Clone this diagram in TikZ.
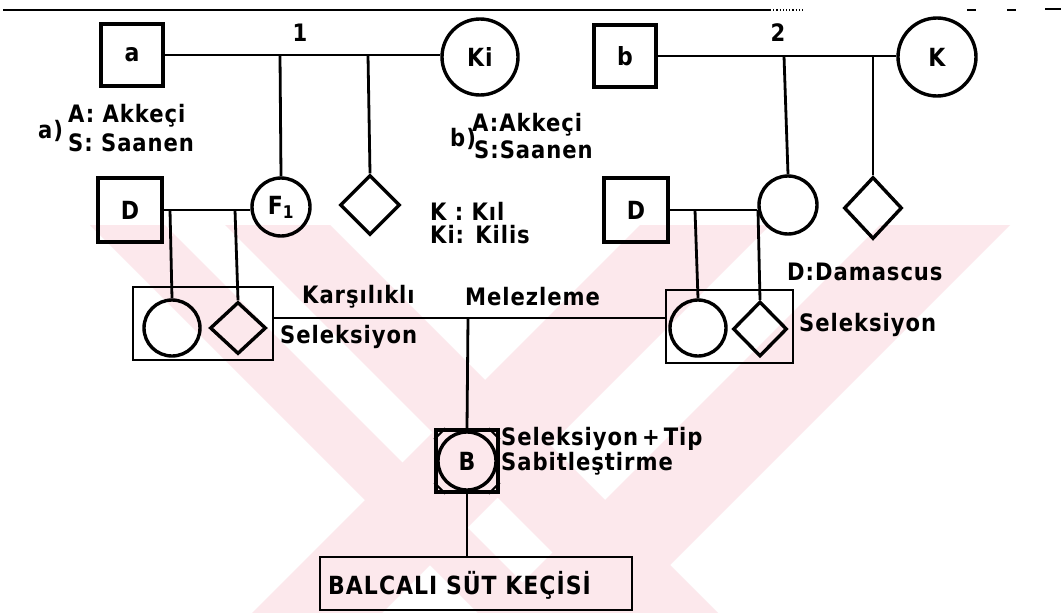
\documentclass[tikz,border=0pt]{standalone}
\usepackage{fontspec}
\setmainfont{DejaVu Sans}
\newfontfamily\lf{DejaVu Sans}[LetterSpace=4,FakeStretch=0.88]
\usetikzlibrary{shapes.geometric,calc}
\newcommand\lblfont{\lf\bfseries\fontsize{24}{27}\selectfont}
\newcommand\inlfont{\lf\bfseries\fontsize{25}{28}\selectfont}
\newcommand\balfont{\lf\bfseries\fontsize{25}{28}\selectfont}
\definecolor{wmpink}{RGB}{252,232,236}
\begin{document}
\begin{tikzpicture}[x=1pt,y=-1pt,
  sq/.style={draw,line width=3.4pt,minimum size=62pt,inner sep=0pt,font=\inlfont},
  circ/.style={draw,circle,line width=3.4pt,inner sep=0pt,font=\inlfont},
  dia/.style={draw,diamond,line width=3.4pt,inner sep=0pt,minimum width=60pt,minimum height=60pt},
  conn/.style={line width=2.8pt},
  grp/.style={draw,line width=2.8pt,inner sep=0pt},
  txt/.style={font=\lblfont,inner sep=0pt,anchor=west},
  wm/.style={fill=wmpink}]
\useasboundingbox (0,0) rectangle (1061,613);
\fill[white] (0,0) rectangle (1061,613);
% faint background watermark
\begin{scope}
\clip (0,225) rectangle (1061,613);
\fill[wm] (90,225) -- (165,225) -- (553,613) -- (478,613) -- cycle;
\fill[wm] (225,225) -- (330,225) -- (718,613) -- (613,613) -- cycle;
\fill[wm] (880,225) -- (1010,225) -- (622,613) -- (492,613) -- cycle;
\fill[wm] (640,225) -- (770,225) -- (382,613) -- (252,613) -- cycle;
\end{scope}
% top rule
\draw[line width=2.4pt] (3,10) -- (770,10);
\draw[line width=1.2pt,dotted] (770,10) -- (805,10);
\draw[line width=1.6pt] (967,10) -- (976,10);
\draw[line width=1.6pt] (1007,10) -- (1016,10);
\draw[line width=2.6pt] (1045,9) -- (1061,9);
% generation 1
\node[sq] (a) at (132,55) {a};
\node[circ,minimum size=76pt] (ki) at (480,57) {Ki};
\node[sq] (b) at (625,56) {b};
\node[circ,minimum size=78pt] (k) at (937,57) {K};
\node[font=\lblfont,inner sep=0pt] (n1) at (300,33) {1};
\node[font=\lblfont,inner sep=0pt] (n2) at (778,33) {2};
% generation 2
\node[circ,minimum size=58pt] (f1) at (281,207) {F\textsubscript{1}};
\node[dia] (d1x) at (370,205) {};
\node[sq,minimum size=64pt] (dd1) at (130,210) {D};
\node[sq,minimum size=64pt] (dd2) at (636,210) {D};
\node[circ,minimum size=58pt] (f2) at (788,205) {};
\node[dia,minimum width=58pt,minimum height=62pt] (d2x) at (873,208) {};
% group boxes
\node[grp,minimum width=140pt,minimum height=73pt] (gl) at (203,323.5) {};
\node[circ,minimum size=56pt] (cl) at (172,328) {};
\node[dia,minimum width=56pt,minimum height=52pt] (dl) at (238,328) {};
\node[grp,minimum width=127pt,minimum height=73pt] (gr) at (729.5,326.5) {};
\node[circ,minimum size=56pt] (cr) at (698,328) {};
\node[dia,minimum width=54pt,minimum height=55pt] (dr) at (760,329) {};
% B and final box
\node[sq] (bb) at (467,461) {};
\node[circ,minimum size=58pt] (bc) at (bb.center) {B};
\node[grp,minimum width=312pt,minimum height=53pt] (bal) at (476,583.5) {};
\node[font=\balfont,inner sep=0pt,anchor=west] (baltxt) at (328,585) {BALCALI SÜT KEÇİSİ};
% corner marks of B
\draw[line width=2.2pt] ($(bb.north west)+(0,11)$) -- ($(bb.north west)+(11,0)$);
\draw[line width=2.2pt] ($(bb.north east)+(0,11)$) -- ($(bb.north east)+(-11,0)$);
\draw[line width=2.2pt] ($(bb.south west)+(0,-11)$) -- ($(bb.south west)+(11,0)$);
\draw[line width=2.2pt] ($(bb.south east)+(0,-11)$) -- ($(bb.south east)+(-11,0)$);
% connectors
\coordinate (m1) at (280,55);
\coordinate (m1b) at (368,55);
\draw[conn] (a.east) -- (a.east -| ki.west);
\draw[conn] (m1) -- (f1.north);
\draw[conn] (m1b) -- (d1x.north);
\draw[conn] (dd1.east) -- (dd1.east -| f1.west);
\coordinate (p1) at (170,210);
\coordinate (p2) at (235,210);
\draw[conn] (p1) -- (cl.north);
\draw[conn] (p2) -- (dl.north);
\coordinate (m2) at (784,56);
\coordinate (m2b) at (873,56);
\draw[conn] (b.east) -- (b.east -| k.west);
\draw[conn] (m2) -- (f2.north);
\draw[conn] (m2b) -- (d2x.north);
\draw[conn] (dd2.east) -- (dd2.east -| f2.west);
\coordinate (p3) at (695,210);
\coordinate (p4) at (758,210);
\draw[conn] (p3) -- (cr.north);
\draw[conn] (p4) -- (dr.north);
\coordinate (km) at (468,318);
\draw[conn] (gl.east |- km) -- (gr.west |- km);
\draw[conn] (km) -- (bb.north);
\draw[conn] (bb.south) -- (bb.south |- bal.north);
% labels
\node[txt] (kar) at (302,297) {Karşılıklı};
\node[txt] (mel) at (465,297) {Melezleme};
\node[txt] (sel1) at (280,337) {Seleksiyon};
\node[txt] (sel2) at (799,325) {Seleksiyon};
\node[txt] (dam) at (787,272) {D:Damascus};
\node[txt] (selt) at (501,439) {Seleksiyon\,+\,Tip};
\node[txt] (sab) at (501,464) {Sabitleştirme};
\node[txt] (al) at (38,131) {a)};
\node[txt] (a1) at (68,116) {A: Akkeçi};
\node[txt] (a2) at (68,143) {S: Saanen};
\node[txt] (bl) at (450,139) {b)};
\node[txt] (b1) at (472,125) {A:Akkeçi};
\node[txt] (b2) at (474,150) {S:Saanen};
\node[txt] (kk) at (430,211) {K : Kıl};
\node[txt] (kki) at (430,235) {Ki: Kilis};
\end{tikzpicture}
\end{document}
